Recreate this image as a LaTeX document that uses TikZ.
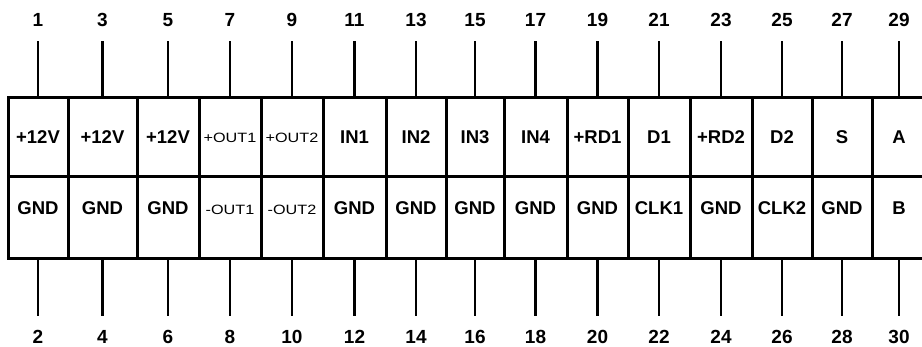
\documentclass[tikz,border=0pt]{standalone}
\usepackage{fontspec}
\setmainfont{Liberation Sans}
\newfontfamily\widefont[FakeStretch=1.2]{Liberation Sans}
\usetikzlibrary{positioning}

\tikzset{
    cell/.style={draw, line width=3pt, inner sep=0pt, minimum height=79pt},
    lowcell/.style={cell, minimum height=82pt, text height=13pt, text depth=20pt},
    bold/.style={font=\fontsize{18.5}{20}\bfseries\selectfont},
    thin/.style={font=\widefont\fontsize{13.5}{15}\selectfont},
    pinnum/.style={inner sep=0pt, text height=14pt, text depth=0pt,
        font=\fontsize{19}{20}\bfseries\selectfont},
    pin/.style={line width=2.6pt, shorten >=14pt}
}

\begin{document}
\begin{tikzpicture}[x=1pt, y=-1pt]
    \useasboundingbox (0,0) rectangle (922,347);

    % Upper row of terminals, odd pins
    \foreach \xl/\xr/\sty/\lab [count=\i, evaluate=\i as \num using int(2*\i-1)] in
        {8/68/bold/+12V, 68/137/bold/+12V, 137/199/bold/+12V,
         199/261/thin/+OUT1, 261/323/thin/+OUT2,
         323/386/bold/IN1, 386/446/bold/IN2, 446/504/bold/IN3, 504/567/bold/IN4,
         567/628/bold/+RD1, 628/690/bold/D1, 690/752/bold/+RD2, 752/812/bold/D2,
         812/872/bold/S, 872/926/bold/A}
    {
        \node[cell, \sty, minimum width=\xr-\xl] (t\i) at ({(\xl+\xr)/2},137.5) {\lab};
        \node[pinnum] (n\i) at ({(\xl+\xr)/2},20) {\num};
        \draw[pin] (t\i.north) -- (n\i);
    }

    % Lower row of terminals, even pins
    \foreach \xl/\xr/\sty/\lab [count=\i, evaluate=\i as \num using int(2*\i)] in
        {8/68/bold/GND, 68/137/bold/GND, 137/199/bold/GND,
         199/261/thin/-OUT1, 261/323/thin/-OUT2,
         323/386/bold/GND, 386/446/bold/GND, 446/504/bold/GND, 504/567/bold/GND,
         567/628/bold/GND, 628/690/bold/CLK1, 690/752/bold/GND, 752/812/bold/CLK2,
         812/872/bold/GND, 872/926/bold/B}
    {
        \node[lowcell, \sty, minimum width=\xr-\xl] (b\i) at ({(\xl+\xr)/2},218) {\lab};
        \node[pinnum] (m\i) at ({(\xl+\xr)/2},337) {\num};
        \draw[pin] (b\i.south) -- (m\i);
    }
\end{tikzpicture}
\end{document}
